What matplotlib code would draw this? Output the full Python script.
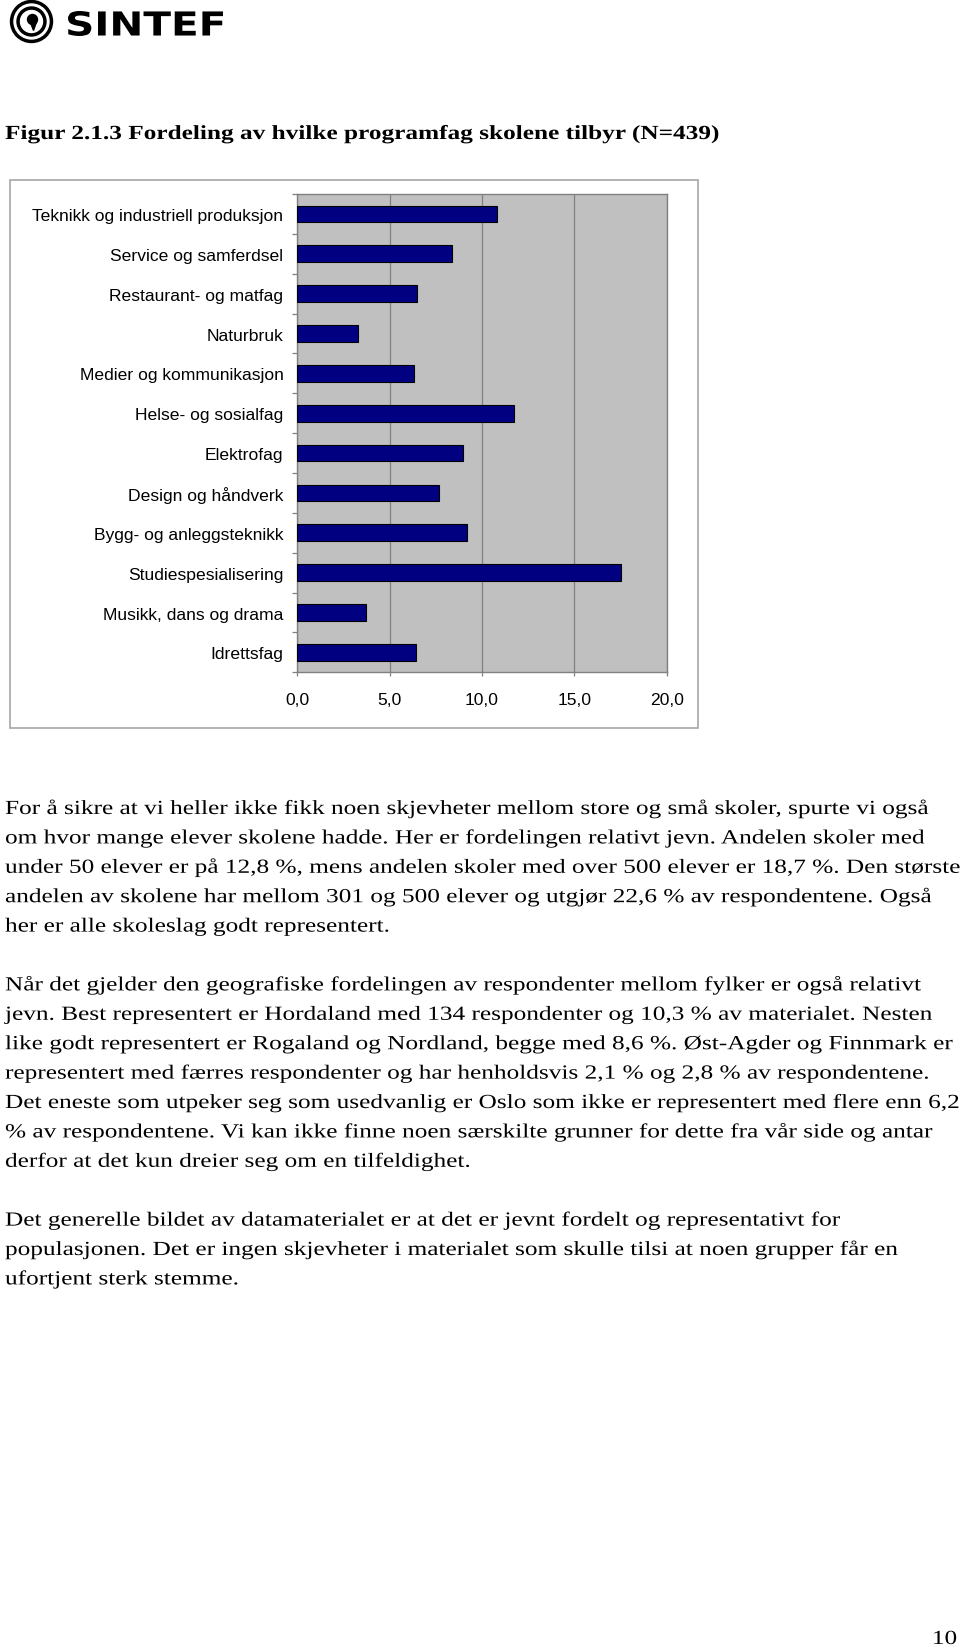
import matplotlib
matplotlib.use('Agg')
import matplotlib.pyplot as plt
import numpy as np
from matplotlib.patches import Rectangle, Circle, PathPatch, Polygon
from matplotlib.patheffects import AbstractPathEffect
from matplotlib.textpath import TextPath
from matplotlib.font_manager import FontProperties
from matplotlib.transforms import Affine2D

W, H = 960, 1649

# chart data (percent of schools offering each programme)
categories = ['Teknikk og industriell produksjon', 'Service og samferdsel',
              'Restaurant- og matfag', 'Naturbruk', 'Medier og kommunikasjon',
              'Helse- og sosialfag', 'Elektrofag', 'Design og håndverk',
              'Bygg- og anleggsteknikk', 'Studiespesialisering',
              'Musikk, dans og drama', 'Idrettsfag']
values = [10.8, 8.4, 6.5, 3.3, 6.3, 11.75, 8.95, 7.65, 9.2, 17.5, 3.7, 6.4]
xticks = [0, 5, 10, 15, 20]
xtick_labels = ['0,0', '5,0', '10,0', '15,0', '20,0']

title = 'Figur 2.1.3 Fordeling av hvilke programfag skolene tilbyr (N=439)'
paragraphs = [
    ['For å sikre at vi heller ikke fikk noen skjevheter mellom store og små skoler, spurte vi også',
     'om hvor mange elever skolene hadde. Her er fordelingen relativt jevn. Andelen skoler med',
     'under 50 elever er på 12,8 %, mens andelen skoler med over 500 elever er 18,7 %. Den største',
     'andelen av skolene har mellom 301 og 500 elever og utgjør 22,6 % av respondentene. Også',
     'her er alle skoleslag godt representert.'],
    ['Når det gjelder den geografiske fordelingen av respondenter mellom fylker er også relativt',
     'jevn. Best representert er Hordaland med 134 respondenter og 10,3 % av materialet. Nesten',
     'like godt representert er Rogaland og Nordland, begge med 8,6 %. Øst-Agder og Finnmark er',
     'representert med færres respondenter og har henholdsvis 2,1 % og 2,8 % av respondentene.',
     'Det eneste som utpeker seg som usedvanlig er Oslo som ikke er representert med flere enn 6,2',
     '% av respondentene. Vi kan ikke finne noen særskilte grunner for dette fra vår side og antar',
     'derfor at det kun dreier seg om en tilfeldighet.'],
    ['Det generelle bildet av datamaterialet er at det er jevnt fordelt og representativt for',
     'populasjonen. Det er ingen skjevheter i materialet som skulle tilsi at noen grupper får en',
     'ufortjent sterk stemme.'],
]
page_no = '10'


class HStretch(AbstractPathEffect):
    # the scanned page is wider than it is tall, so stretch glyphs sideways around x0 (pixels)
    def __init__(self, x0, sx):
        super().__init__()
        self.x0 = x0
        self.sx = sx

    def draw_path(self, renderer, gc, tpath, affine, rgbFace=None):
        st = Affine2D().translate(-self.x0, 0).scale(self.sx, 1).translate(self.x0, 0)
        renderer.draw_path(gc, tpath, affine + st, rgbFace)


SX = 1.265
FS = 14.4

fig = plt.figure(figsize=(9.6, 16.49), dpi=100)

# page layer in pixel coordinates (y downwards)
page = fig.add_axes([0, 0, 1, 1])
page.set_xlim(0, W)
page.set_ylim(H, 0)
page.axis('off')

# logo
cx, cy = 31.5, 22.5
page.add_patch(Circle((cx, cy), 21, color='black'))
page.add_patch(Circle((cx, cy), 17.5, color='white'))
page.add_patch(Circle((cx, cy), 14.5, color='black'))
page.add_patch(Circle((cx, cy), 11, color='white'))
page.add_patch(Circle((cx + 1, cy - 2), 5, color='black'))
page.add_patch(Polygon([(cx + 5.5, cy - 1), (cx + 2, cy + 9), (cx - 1, cy + 1)], color='black'))

tp = TextPath((0, 0), 'SINTEF', size=1, prop=FontProperties(family='DejaVu Sans', weight='bold'))
ext = tp.get_extents()
sx = (223 - 68) / ext.width
sy = (37 - 12) / ext.height
tr = Affine2D().translate(-ext.x0, -ext.y0).scale(sx, -sy).translate(68, 37)
page.add_patch(PathPatch(tr.transform_path(tp), color='black', lw=0))

# title
page.text(5, 140, title, fontsize=FS, fontweight='bold', family='Liberation Serif',
          va='baseline', ha='left', path_effects=[HStretch(5, SX)])

# chart frame
page.add_patch(Rectangle((10.3, 181.3), 687.4, 548, fill=False, ec='#a6a6a6', lw=1.2))

# body text
line_h = 29.4
y = 815
for para in paragraphs:
    for line in para:
        page.text(5, y, line, fontsize=FS, family='Liberation Serif', va='baseline', ha='left',
                  path_effects=[HStretch(5, SX)])
        y += line_h
    y += line_h

page.text(957, 1645, page_no, fontsize=FS, family='Liberation Serif', va='baseline', ha='right',
          path_effects=[HStretch(957, SX)])

# bar chart
ax = fig.add_axes([297.3 / W, 1 - 673.3 / H, 369.4 / W, 478.3 / H])
ax.set_facecolor('#c0c0c0')
pos = np.arange(len(categories))
ax.barh(pos, values, height=0.42, color='#000080', edgecolor='black', linewidth=0.8, zorder=3)
ax.set_xlim(0, 20)
ax.set_ylim(len(categories) - 0.5, -0.5)
ax.set_yticks(pos)
ax.set_yticklabels(categories, family='Liberation Sans', fontsize=12.6)
ax.set_yticks(np.arange(-0.5, len(categories)), minor=True)
ax.tick_params(axis='y', which='major', length=0, pad=10)
ax.tick_params(axis='y', which='minor', length=3.8, color='#808080', width=0.9)
ax.set_xticks(xticks)
ax.set_xticklabels(xtick_labels, family='Liberation Sans', fontsize=12.6)
ax.tick_params(axis='x', length=3, color='#808080', width=0.9, pad=11)
ax.grid(axis='x', color='#808080', lw=0.9, zorder=1)
ax.set_axisbelow(True)
for s in ax.spines.values():
    s.set_color('#808080')
    s.set_linewidth(1.0)

fig.savefig('out.png', dpi=100)
